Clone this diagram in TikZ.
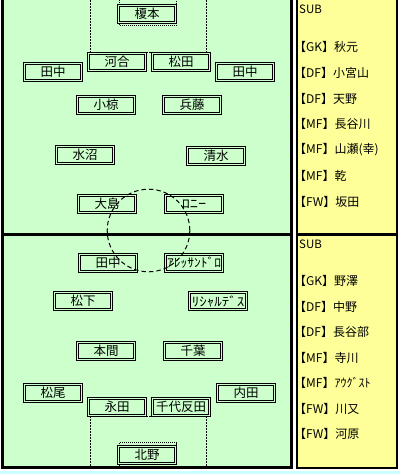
\documentclass[tikz,border=0pt]{standalone}
\usepackage{graphicx}
\usepackage{fontspec}
\newfontfamily\jp{Noto Sans CJK JP}
\definecolor{fieldgreen}{HTML}{CCFFCC}
\definecolor{subyellow}{HTML}{FFFF99}
\definecolor{bgcyan}{HTML}{CCFFFF}
\tikzset{
  player/.style={draw=black, line width=1pt, double=fieldgreen, double distance=1pt,
    fill=fieldgreen, minimum width=57pt, minimum height=17pt, inner sep=0pt,
    font=\jp\fontsize{12.5}{14}\selectfont},
  subtxt/.style={anchor=west, inner sep=0pt, font=\jp\fontsize{12}{13}\selectfont},
  subhead/.style={anchor=west, inner sep=0pt, font=\jp\fontsize{11.5}{12}\selectfont},
  pdot/.style={line width=1pt, dash pattern=on 2pt off 1pt},
  gdot/.style={line width=1pt, dash pattern=on 1pt off 1pt},
  cdash/.style={line width=1pt, dash pattern=on 4.5pt off 3pt},
  thickline/.style={line width=3pt},
}
\begin{document}
\begin{tikzpicture}[x=1pt,y=-1pt]
\useasboundingbox (0,0) rectangle (400,474);
\fill[white] (0,0) rectangle (400,474);
\fill[bgcyan] (0,471) rectangle (400,474);
\fill[fieldgreen] (2.5,0) rectangle (291.5,467.5);
\fill[subyellow] (297,0) rectangle (397,467.5);
% field markings
\draw[pdot] (90.5,0) -- (90.5,52.5) -- (206.5,52.5) -- (206.5,0);
\draw[gdot] (119.5,0) -- (119.5,25.5) -- (176.5,25.5) -- (176.5,0);
\draw[pdot] (90.5,466) -- (90.5,416.5) -- (206.5,416.5) -- (206.5,466);
\draw[gdot] (119.5,466) -- (119.5,442.5) -- (176.5,442.5) -- (176.5,466);
\draw[thickline] (2.5,0) -- (2.5,467.5) -- (291.5,467.5) -- (291.5,0);
\draw[thickline] (2.5,234.5) -- (291.5,234.5);
\draw[line width=2pt] (297,0) -- (297,467.5) -- (397,467.5) -- (397,0);
\draw[line width=2pt] (296,467.5) -- (398,467.5);
\draw[thickline] (297,234.5) -- (397,234.5);
% top team
\node[player] (p1) at (147,14) {榎本};
\node[player] (p2) at (117,62) {河合};
\node[player] (p3) at (181,62) {松田};
\node[player] (p4) at (53,72) {田中};
\node[player] (p5) at (245,72) {田中};
\node[player] (p6) at (106,105) {小椋};
\node[player] (p7) at (192,105) {兵藤};
\node[player] (p8) at (85,155) {水沼};
\node[player] (p9) at (216,156) {清水};
\node[player] (p10) at (107,204) {大島};
\node[player] (p11) at (194,204) {\scalebox{1.3}[1]{ﾛﾆｰ}};
% bottom team
\node[player] (q1) at (108,263) {田中};
\node[player] (q2) at (194,263) {\scalebox{1.08}[1]{ｱﾚｯｻﾝﾄﾞﾛ}};
\node[player] (q3) at (83,301) {松下};
\node[player] (q4) at (218,301) {\scalebox{1.2}[1]{ﾘｼｬﾙﾃﾞｽ}};
\node[player] (q5) at (106,351) {本間};
\node[player] (q6) at (193,351) {千葉};
\node[player] (q7) at (53,393) {松尾};
\node[player] (q8) at (117,407) {永田};
\node[player] (q9) at (181,407) {千代反田};
\node[player] (q10) at (246,393) {内田};
\node[player] (q11) at (147,455) {北野};
% centre circle
\draw[cdash] (148.5,230.5) circle[radius=41.3pt];
% substitutes top
\node[subhead] (s0) at (299,9) {SUB};
\node[subtxt] (s1) at (294,47) {【GK】秋元};
\node[subtxt] (s2) at (294,72.5) {【DF】小宮山};
\node[subtxt] (s3) at (294,98.5) {【DF】天野};
\node[subtxt] (s4) at (294,124) {【MF】長谷川};
\node[subtxt] (s5) at (294,150) {【MF】山瀬(幸)};
\node[subtxt] (s6) at (294,176) {【MF】乾};
\node[subtxt] (s7) at (294,202) {【FW】坂田};
% substitutes bottom
\node[subhead] (t0) at (299,244) {SUB};
\node[subtxt] (t1) at (294,281) {【GK】野澤};
\node[subtxt] (t2) at (294,306.5) {【DF】中野};
\node[subtxt] (t3) at (294,332) {【DF】長谷部};
\node[subtxt] (t4) at (294,357.5) {【MF】寺川};
\node[subtxt] (t5) at (294,383) {【MF】ｱｳｸﾞｽﾄ};
\node[subtxt] (t6) at (294,408.5) {【FW】川又};
\node[subtxt] (t7) at (294,434) {【FW】河原};
\end{tikzpicture}
\end{document}
